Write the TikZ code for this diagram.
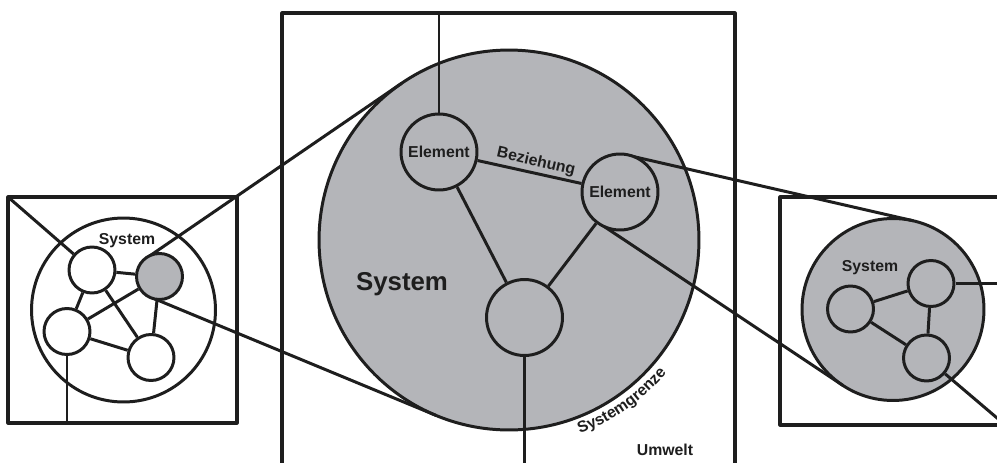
\documentclass[tikz,border=0pt]{standalone}
\usepackage{fontspec}
\setmainfont{Liberation Sans}
\usetikzlibrary{decorations.text}
\definecolor{sysgray}{RGB}{180,181,185}
\definecolor{ink}{RGB}{30,30,30}
\begin{document}
\begin{tikzpicture}[x=0.02cm, y=-0.02cm, color=ink, line width=1.7pt, line join=round,
  lbl/.style={font=\bfseries\fontsize{9}{10}\selectfont, inner sep=0},
  bigel/.style={circle, draw, fill=sysgray, minimum size=1.52cm, inner sep=0, font=\bfseries\fontsize{9}{10}\selectfont},
  smw/.style={circle, draw, fill=white, minimum size=0.92cm, inner sep=0},
  smg/.style={circle, draw, fill=sysgray, minimum size=0.92cm, inner sep=0},
  frame/.style={line width=1.8pt}]
\useasboundingbox (0,0) rectangle (997,463);
\clip (0,0) rectangle (997,463);
\fill[white] (0,0) rectangle (997,463);

% frames
\draw[frame] (282,480) -- (282,13) -- (735,13) -- (735,480);
\draw[frame] (8,197) rectangle (237,423);
\draw[frame] (1010,197) -- (780,197) -- (780,425) -- (1010,425);

% big system
\node[circle, draw, fill=sysgray, minimum size=7.6cm, inner sep=0] (bsys) at (509,240) {};
% right system circle
\node[circle, draw, fill=sysgray, minimum size=3.64cm, inner sep=0] (rsys) at (893,309.5) {};
% left system circle
\node[circle, draw, minimum size=3.68cm, inner sep=0] (lsys) at (123.5,310) {};

% zoom lines
\coordinate (zl1a) at (146.8,257.9); \coordinate (zl1b) at (401.6,83.3);
\coordinate (zl2a) at (150.9,297.3); \coordinate (zl2b) at (436.3,415.5);
\coordinate (zr1a) at (628.4,155.4); \coordinate (zr1b) at (913.4,220.8);
\coordinate (zr2a) at (599.2,223.2); \coordinate (zr2b) at (842.6,385.2);
\draw (zl1a) -- (zl1b);
\draw (zl2a) -- (zl2b);
\draw (zr1a) -- (zr1b);
\draw (zr2a) -- (zr2b);

% left system content
\node[lbl, anchor=base] (lsyslbl) at (127,244) {System};
\node[smw] (la) at (92,270) {};
\node[smg] (lg) at (159.5,276.5) {};
\node[smw] (lb) at (67,331.5) {};
\node[smw] (lc) at (151,357.5) {};
\draw (la) -- (lg);
\draw (la) -- (lb);
\draw (la) -- (lc);
\draw (lg) -- (lb);
\draw (lg) -- (lc);
\draw (lb) -- (lc);
\coordinate (lcorner) at (8,197);
\coordinate (lbot) at (67,423);
\draw (lcorner) -- (la);
\draw (lb.south) -- (lbot);

% big system content
\node[anchor=base, font=\bfseries\fontsize{14.7}{16}\selectfont, inner sep=0] (bsyslbl) at (402,290) {System};
\node[bigel] (e1) at (439,152) {Element};
\node[bigel] (e2) at (620,192) {Element};
\node[bigel] (e3) at (524.5,317.5) {};
\draw (e1) -- (e2);
\draw (e1) -- (e3);
\draw (e2) -- (e3);
\coordinate (ttop) at (439,13);
\coordinate (tbot) at (524.5,480);
\draw (e1.north) -- (ttop);
\draw (e3.south) -- (tbot);
\node[lbl, rotate=-13] (bez) at (536,162) {Beziehung};
\node[lbl, anchor=base] (umw) at (665,455) {Umwelt};
\path[decorate, decoration={text along path, text color=ink, text align=center,
  text={|\bfseries\fontsize{9}{10}\selectfont|Systemgrenze}}]
  (509,240) ++(70:206) arc[start angle=70, end angle=40, radius=206];

% right system content
\node[lbl, anchor=base] (rsyslbl) at (870,271) {System};
\node[smg] (ra) at (850.5,309) {};
\node[smg] (rb) at (931,283.5) {};
\node[smg] (rc) at (926.5,358) {};
\draw (ra) -- (rb);
\draw (ra) -- (rc);
\draw (rb) -- (rc);
\coordinate (rout1) at (1010,283.5);
\coordinate (rout2) at (1010,429);
\draw (rb) -- (rout1);
\draw (rc) -- (rout2);
\end{tikzpicture}
\end{document}
